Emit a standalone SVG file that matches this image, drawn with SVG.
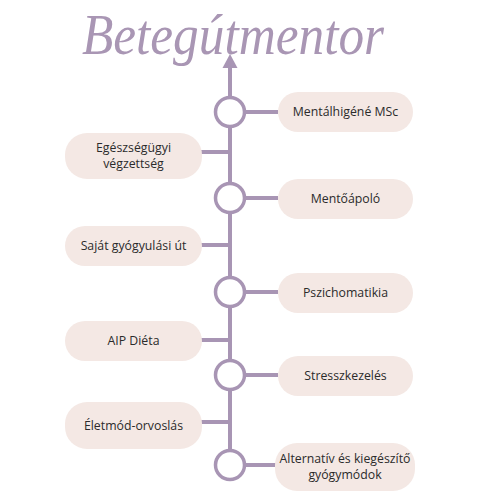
<svg xmlns="http://www.w3.org/2000/svg" width="500" height="500" viewBox="0 0 500 500">
<defs>
<style>
.box{fill:#f4e8e4}
.lbl{font-family:"Open Sans","Liberation Sans",sans-serif;font-size:12.3px;fill:#2b2b2b;text-anchor:middle}
.ln{stroke:#a895b4;stroke-width:4;fill:none}
.circ{stroke:#a895b4;stroke-width:3.5;fill:#ffffff}
.title{font-family:"Liberation Serif","DejaVu Serif",serif;font-style:italic;font-size:56px;fill:#a996b4}
</style>
</defs>
<rect width="500" height="500" fill="#ffffff"/>
<text class="title" x="82" y="54" textLength="302" lengthAdjust="spacingAndGlyphs">Betegútmentor</text>
<g id="connectors">
<line class="ln" x1="230" y1="66" x2="230" y2="465"/>
<polygon points="230,54 222.5,68 237.5,68" fill="#a895b4"/>
<line class="ln" x1="230" y1="112" x2="278" y2="112"/>
<line class="ln" x1="230" y1="198" x2="278" y2="198"/>
<line class="ln" x1="230" y1="292" x2="278" y2="292"/>
<line class="ln" x1="230" y1="375" x2="278" y2="375"/>
<line class="ln" x1="230" y1="465" x2="276" y2="465"/>
<line class="ln" x1="200" y1="152" x2="230" y2="152"/>
<line class="ln" x1="200" y1="245" x2="230" y2="245"/>
<line class="ln" x1="200" y1="340" x2="230" y2="340"/>
<line class="ln" x1="200" y1="422" x2="230" y2="422"/>
</g>
<g id="c1"><circle class="circ" cx="230" cy="112" r="14.5"/></g>
<g id="c2"><circle class="circ" cx="230" cy="198" r="14.5"/></g>
<g id="c3"><circle class="circ" cx="230" cy="292" r="14.5"/></g>
<g id="c4"><circle class="circ" cx="230" cy="375" r="14.5"/></g>
<g id="c5"><circle class="circ" cx="230" cy="465" r="14.5"/></g>
<g id="n1"><rect class="box" x="278" y="92" width="135" height="40" rx="20"/><text class="lbl" x="345.5" y="116">Mentálhigéné MSc</text></g>
<g id="n2"><rect class="box" x="278" y="179" width="135" height="40" rx="20"/><text class="lbl" x="345.5" y="203">Mentőápoló</text></g>
<g id="n3"><rect class="box" x="278" y="273" width="135" height="40" rx="20"/><text class="lbl" x="345.5" y="297">Pszichomatikia</text></g>
<g id="n4"><rect class="box" x="278" y="356" width="135" height="40" rx="20"/><text class="lbl" x="345.5" y="380">Stresszkezelés</text></g>
<g id="n5"><rect class="box" x="275" y="443" width="140" height="48" rx="22"/><text class="lbl" x="345" y="463">Alternatív és kiegészítő</text><text class="lbl" x="345" y="479">gyógymódok</text></g>
<g id="n6"><rect class="box" x="65" y="133" width="137" height="46" rx="22"/><text class="lbl" x="133.5" y="152">Egészségügyi</text><text class="lbl" x="133.5" y="168">végzettség</text></g>
<g id="n7"><rect class="box" x="65" y="226" width="137" height="40" rx="20"/><text class="lbl" x="133.5" y="250">Saját gyógyulási út</text></g>
<g id="n8"><rect class="box" x="65" y="321" width="137" height="40" rx="20"/><text class="lbl" x="133.5" y="345">AIP Diéta</text></g>
<g id="n9"><rect class="box" x="65" y="402" width="137" height="47" rx="22"/><text class="lbl" x="133.5" y="430">Életmód-orvoslás</text></g>
</svg>
